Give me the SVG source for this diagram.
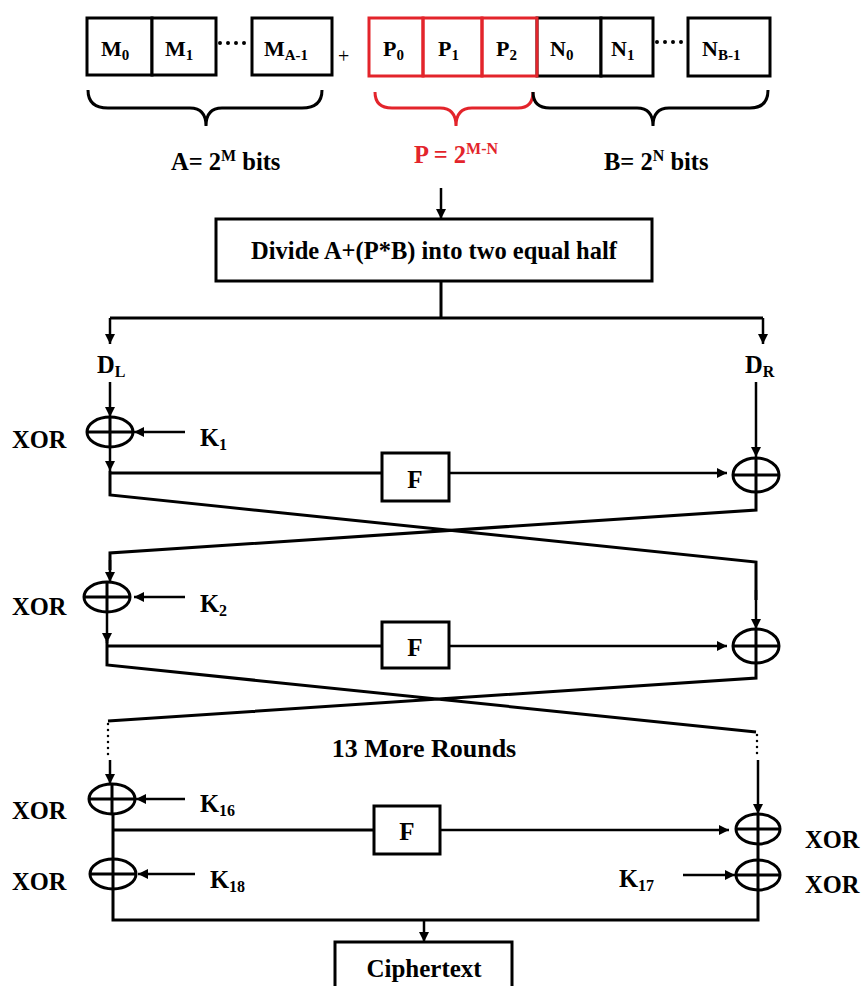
<svg xmlns="http://www.w3.org/2000/svg" width="863" height="986" viewBox="0 0 863 986" font-family="'Liberation Serif', 'Times New Roman', 'DejaVu Serif', serif">
<defs>
<marker id="ah" viewBox="0 0 10 10" refX="10" refY="5" markerWidth="11" markerHeight="10" markerUnits="userSpaceOnUse" orient="auto">
<path d="M0,0 L10,5 L0,10 z" fill="#000"/>
</marker>
</defs>
<style>
text{font-family:'Liberation Serif','Times New Roman','DejaVu Serif',serif;font-weight:700;fill:#000}
.box{fill:#fff;stroke:#000;stroke-width:3}
.rbox{fill:none;stroke:#e3242b;stroke-width:3}
.ln{fill:none;stroke:#000;stroke-width:3}
.arr{fill:none;stroke:#000;stroke-width:2.5;marker-end:url(#ah)}
.dot{fill:none;stroke:#000;stroke-width:4;stroke-linecap:round;stroke-dasharray:0 8}
.sdot{fill:none;stroke:#000;stroke-width:2.5;stroke-linecap:round;stroke-dasharray:0 6}
.xor{fill:#fff;stroke:#000;stroke-width:3}
.lbl{font-size:24.5px}
.cell{font-size:22px}
.red{fill:#e3242b}
</style>
<rect width="863" height="986" fill="#fff"/>

<g id="input-blocks">
<g id="M0"><rect class="box" x="87" y="18" width="65" height="57"/><text class="cell" x="101" y="56">M<tspan font-size="15" dy="4">0</tspan></text></g>
<g id="M1"><rect class="box" x="152" y="18" width="64" height="57"/><text class="cell" x="165" y="56">M<tspan font-size="15" dy="4">1</tspan></text></g>
<line class="dot" x1="220" y1="43" x2="249" y2="43"/>
<g id="MA-1"><rect class="box" x="252" y="18" width="80" height="57"/><text class="cell" x="264" y="56">M<tspan font-size="15" dy="4">A-1</tspan></text></g>
<text x="338" y="63" font-size="20" style="font-weight:400">+</text>
<g id="N0"><rect class="box" x="537" y="18" width="64" height="58"/><text class="cell" x="550" y="56">N<tspan font-size="15" dy="4">0</tspan></text></g>
<g id="N1"><rect class="box" x="601" y="18" width="52" height="58"/><text class="cell" x="611" y="56">N<tspan font-size="15" dy="4">1</tspan></text></g>
<line class="dot" x1="657" y1="42" x2="686" y2="42"/>
<g id="NB-1"><rect class="box" x="688" y="18" width="82" height="58"/><text class="cell" x="702" y="56">N<tspan font-size="15" dy="4">B-1</tspan></text></g>
<g id="P0"><rect class="rbox" x="369" y="18" width="54" height="58"/><text class="cell" x="383" y="56">P<tspan font-size="15" dy="4">0</tspan></text></g>
<g id="P1"><rect class="rbox" x="423" y="18" width="59" height="58"/><text class="cell" x="438" y="56">P<tspan font-size="15" dy="4">1</tspan></text></g>
<g id="P2"><rect class="rbox" x="482" y="18" width="55" height="58"/><text class="cell" x="496" y="56">P<tspan font-size="15" dy="4">2</tspan></text></g>
</g>

<g id="braces">
<path class="ln" d="M88,90 Q88,108 108,108 L190,108 Q206,108 206,126 Q206,108 222,108 L302,108 Q322,108 322,90"/>
<path d="M375,92 Q375,108 392,108 L440,108 Q456,108 456,126 Q456,108 472,108 L518,108 Q533,108 533,92" fill="none" stroke="#e3242b" stroke-width="3"/>
<path class="ln" d="M533,92 Q533,108 550,108 L637,108 Q653,108 653,126 Q653,108 669,108 L750,108 Q768,108 768,90"/>
<text class="lbl" x="171" y="170">A= 2<tspan font-size="16" dy="-9">M</tspan><tspan dy="9"> bits</tspan></text>
<text class="lbl red" x="414" y="163">P = 2<tspan font-size="16" dy="-9">M-N</tspan></text>
<text class="lbl" x="604" y="170">B= 2<tspan font-size="16" dy="-9">N</tspan><tspan dy="9"> bits</tspan></text>
</g>

<g id="divide">
<rect class="box" x="216" y="219" width="436" height="62"/>
<text x="434" y="259" font-size="24.5" text-anchor="middle">Divide A+(P*B) into two equal half</text>
</g>

<g id="labels">
<text class="lbl" x="97" y="373">D<tspan font-size="16" dy="4">L</tspan></text>
<text class="lbl" x="745" y="373">D<tspan font-size="16" dy="4">R</tspan></text>
<text class="lbl" x="12" y="448">XOR</text>
<text class="lbl" x="200" y="446">K<tspan font-size="16" dy="4">1</tspan></text>
<text class="lbl" x="12" y="615">XOR</text>
<text class="lbl" x="200" y="612">K<tspan font-size="16" dy="4">2</tspan></text>
<text x="424" y="757" font-size="26" text-anchor="middle">13 More Rounds</text>
<text class="lbl" x="12" y="819">XOR</text>
<text class="lbl" x="200" y="812">K<tspan font-size="16" dy="4">16</tspan></text>
<text class="lbl" x="12" y="890">XOR</text>
<text class="lbl" x="210" y="888">K<tspan font-size="16" dy="4">18</tspan></text>
<text class="lbl" x="619" y="887">K<tspan font-size="16" dy="4">17</tspan></text>
<text class="lbl" x="805" y="848">XOR</text>
<text class="lbl" x="805" y="893">XOR</text>
</g>

<g id="connectors">
<line class="arr" x1="441" y1="188" x2="441" y2="219"/>
<path class="ln" d="M441,281 L441,318 M110,318 L763,318"/>
<line class="arr" x1="110" y1="318" x2="110" y2="344"/>
<line class="arr" x1="763" y1="318" x2="763" y2="344"/>
<line class="arr" x1="110" y1="382" x2="110" y2="417"/>
<line class="arr" x1="185" y1="432" x2="134" y2="432"/>
<line class="arr" x1="110" y1="447" x2="110" y2="471"/>
<path class="ln" d="M110,473 L382,473 M110,471 L110,495 L756,562 L756,600"/>
<line class="arr" x1="449" y1="473" x2="727" y2="473"/>
<line class="arr" x1="756" y1="382" x2="756" y2="457"/>
<path class="ln" d="M756,492 L756,510 L110,553 L110,570"/>
<line class="arr" x1="110" y1="560" x2="110" y2="582"/>
<line class="arr" x1="756" y1="590" x2="756" y2="629"/>
<line class="arr" x1="185" y1="597" x2="134" y2="597"/>
<line class="arr" x1="107" y1="612" x2="107" y2="643"/>
<path class="ln" d="M107,646 L382,646 M107,640 L107,665 L756,732 M756,663 L756,678 L108,721"/>
<line class="arr" x1="449" y1="646" x2="727" y2="646"/>
<line class="sdot" x1="108" y1="724" x2="108" y2="758"/>
<line class="sdot" x1="757" y1="735" x2="757" y2="758"/>
<line class="arr" x1="110" y1="760" x2="110" y2="784"/>
<line class="arr" x1="185" y1="799" x2="136" y2="799"/>
<path class="ln" d="M113,814 L113,859 M113,830 L374,830 M113,889 L113,920 L758,920 L758,890 M758,844 L758,860"/>
<line class="arr" x1="440" y1="830" x2="729" y2="830"/>
<line class="arr" x1="758" y1="760" x2="758" y2="814"/>
<line class="arr" x1="195" y1="874" x2="138" y2="874"/>
<line class="arr" x1="683" y1="875" x2="735" y2="875"/>
<line class="arr" x1="424" y1="920" x2="424" y2="942"/>
</g>

<g id="xor-L1"><ellipse class="xor" cx="110" cy="432" rx="23" ry="15"/><path class="ln" d="M87,432 H133 M110,417 V447"/></g>
<g id="xor-R1"><ellipse class="xor" cx="756" cy="475" rx="23" ry="17"/><path class="ln" d="M733,475 H779 M756,458 V492"/></g>
<g id="xor-L2"><ellipse class="xor" cx="107" cy="597" rx="23" ry="15"/><path class="ln" d="M84,597 H130 M107,582 V612"/></g>
<g id="xor-R2"><ellipse class="xor" cx="756" cy="646" rx="23" ry="17"/><path class="ln" d="M733,646 H779 M756,629 V663"/></g>
<g id="xor-L16"><ellipse class="xor" cx="112" cy="799" rx="23" ry="15"/><path class="ln" d="M89,799 H135 M112,784 V814"/></g>
<g id="xor-L18"><ellipse class="xor" cx="113" cy="874" rx="23" ry="15"/><path class="ln" d="M90,874 H136 M113,859 V889"/></g>
<g id="xor-R16"><ellipse class="xor" cx="758" cy="829" rx="22" ry="15"/><path class="ln" d="M736,829 H780 M758,814 V844"/></g>
<g id="xor-R17"><ellipse class="xor" cx="758" cy="875" rx="22" ry="15"/><path class="ln" d="M736,875 H780 M758,860 V890"/></g>

<g id="F1"><rect class="box" x="382" y="453" width="67" height="48"/><text x="415" y="488" font-size="25" text-anchor="middle">F</text></g>
<g id="F2"><rect class="box" x="382" y="622" width="67" height="46"/><text x="415" y="656" font-size="25" text-anchor="middle">F</text></g>
<g id="F3"><rect class="box" x="374" y="806" width="66" height="48"/><text x="407" y="840" font-size="25" text-anchor="middle">F</text></g>
<g id="ciphertext"><rect class="box" x="335" y="942" width="177" height="60"/><text x="424" y="977" font-size="25" text-anchor="middle">Ciphertext</text></g>
</svg>
